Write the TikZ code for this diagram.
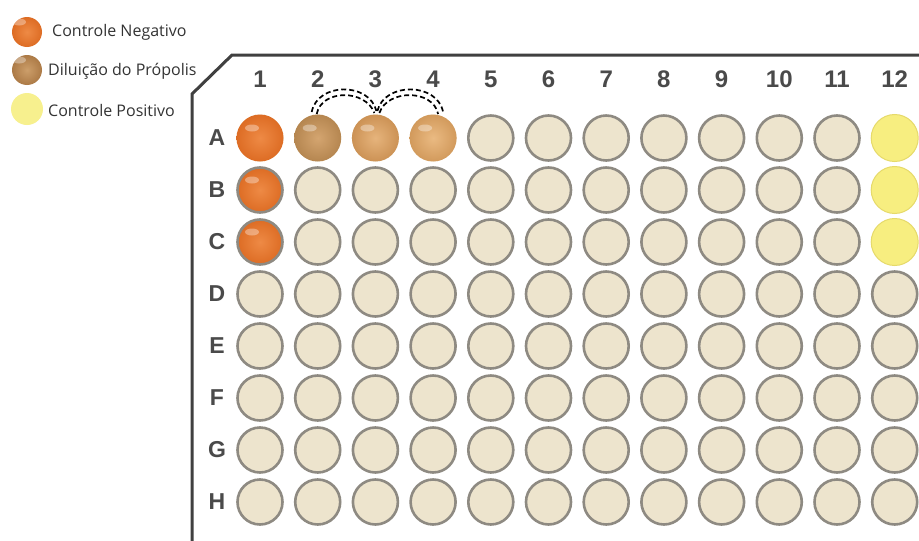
\documentclass[tikz,border=0pt]{standalone}
\usepackage{fontspec}
\setmainfont{Open Sans}
\newfontfamily\platefont{Liberation Sans}
\usetikzlibrary{calc}
\definecolor{wellfill}{HTML}{EDE4CD}
\definecolor{welledge}{HTML}{8E8A82}
\definecolor{plateline}{HTML}{404040}
\definecolor{labelc}{HTML}{4A4A4A}
\definecolor{textc}{HTML}{333333}
\definecolor{negin}{HTML}{EE8A45}
\definecolor{negout}{HTML}{DD6C24}
\definecolor{dtwoin}{HTML}{D4A570}
\definecolor{dtwoout}{HTML}{B58650}
\definecolor{dthreein}{HTML}{E6B47C}
\definecolor{dthreeout}{HTML}{CC9255}
\definecolor{dfourin}{HTML}{EABA82}
\definecolor{dfourout}{HTML}{D29A5C}
\definecolor{posfill}{HTML}{F7EE80}
\definecolor{posedge}{HTML}{E6DA6A}
\definecolor{legbrownin}{HTML}{CC9E6A}
\definecolor{legbrownout}{HTML}{AC7A46}
\definecolor{legyellow}{HTML}{F7F08E}
\tikzset{
  well/.style={circle, minimum size=45pt, inner sep=0pt, line width=2.6pt, draw=welledge, fill=wellfill},
  shine/.style={path picture={\fill[white,opacity=0.35] ([shift={(-8,-10)}]path picture bounding box.center) ellipse (7pt and 3.5pt);}},
  sphere/.style 2 args={draw=none, inner color=#1, outer color=#2, minimum size=47pt, shine},
  rimsphere/.style 2 args={draw=welledge, inner color=#1, outer color=#2, shine},
  wellstyle A1/.style={sphere={negin}{negout}},
  wellstyle B1/.style={rimsphere={negin}{negout}},
  wellstyle C1/.style={rimsphere={negin}{negout}},
  wellstyle A2/.style={sphere={dtwoin}{dtwoout}},
  wellstyle A3/.style={sphere={dthreein}{dthreeout}},
  wellstyle A4/.style={sphere={dfourin}{dfourout}},
  wellstyle A12/.style={draw=posedge, line width=1pt, fill=posfill, minimum size=47pt},
  wellstyle B12/.style={draw=posedge, line width=1pt, fill=posfill, minimum size=47pt},
  wellstyle C12/.style={draw=posedge, line width=1pt, fill=posfill, minimum size=47pt},
  collabel/.style={font=\platefont\bfseries\fontsize{24}{24}\selectfont, text=labelc, inner sep=0pt},
  rowlabel/.style={font=\platefont\bfseries\fontsize{23}{23}\selectfont, text=labelc, inner sep=0pt},
  legtext/.style={font=\fontsize{16}{17}\selectfont, text=textc, anchor=west, inner sep=0pt},
  legdot/.style={circle, minimum size=30pt, inner sep=0pt, draw=none},
  transfer/.style={line width=1.7pt, dash pattern=on 5pt off 3pt, black},
  platebody/.style={line width=3pt, draw=plateline, line join=miter}
}
\begin{document}
\begin{tikzpicture}[x=1pt,y=-1pt]
\useasboundingbox[fill=white] (0,0) rectangle (919,541);
% plate outline
\coordinate (pb) at (192,541);
\coordinate (pl) at (192,94);
\coordinate (pt) at (232,55);
\coordinate (pr) at (919,55);
\draw[platebody] (pb) -- (pl) -- (pt) -- (pr);
% column labels
\foreach \c in {1,...,12} {
  \node[collabel] (col\c) at ({260+(\c-1)*57.7},79) {\c};
}
% row labels and wells
\foreach \r [count=\i] in {A,B,C,D,E,F,G,H} {
  \node[rowlabel] (row\r) at (217,{138+(\i-1)*52}) {\r};
  \foreach \c in {1,...,12} {
    \node[well, wellstyle \r\c/.try] (\r\c) at ({260+(\c-1)*57.7},{138+(\i-1)*52}) {};
  }
}
% serial dilution arcs
\draw[transfer] ($(A2)+(-6,-26)$) .. controls ($(A2)+(0,-56)$) and ($(A3)+(-6,-56)$) .. ($(A3)+(1,-27)$);
\draw[transfer] ($(A2)+(-1,-24)$) .. controls ($(A2)+(4,-49)$) and ($(A3)+(-10,-49)$) .. ($(A3)+(-1,-25)$);
\draw[transfer] ($(A3)+(2,-27)$) .. controls ($(A3)+(9,-56)$) and ($(A4)+(4,-56)$) .. ($(A4)+(10,-26)$);
\draw[transfer] ($(A3)+(4,-25)$) .. controls ($(A3)+(12,-49)$) and ($(A4)+(0,-49)$) .. ($(A4)+(5,-24)$);
% legend
\node[legdot, inner color=negin, outer color=negout, shine] (l1) at (27,32) {};
\node[legdot, inner color=legbrownin, outer color=legbrownout, shine] (l2) at (27,70) {};
\node[legdot, fill=legyellow, minimum size=32pt] (l3) at (27,109) {};
\node[legtext] (t1) at (52,32) {Controle Negativo};
\node[legtext] (t2) at (48,71) {Diluição do Própolis};
\node[legtext] (t3) at (48,110) {Controle Positivo};
\end{tikzpicture}
\end{document}
